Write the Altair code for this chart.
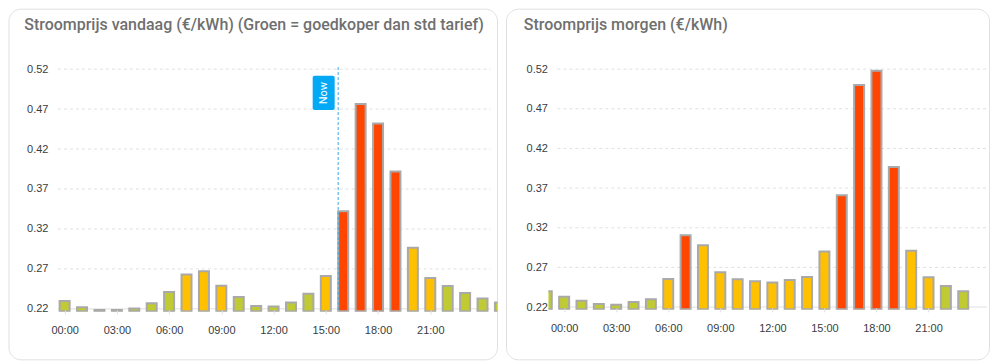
import altair as alt
import pandas as pd

# ---------------- data ----------------
TODAY_HOURS = list(range(0, 26))
TODAY_PRICES = [0.230, 0.222, 0.2185, 0.2185, 0.2205, 0.227, 0.241, 0.263, 0.267, 0.249,
                0.235, 0.2235, 0.223, 0.228, 0.239, 0.261, 0.342, 0.4765, 0.452, 0.392,
                0.2965, 0.2585, 0.2485, 0.240, 0.233, 0.228]
TODAY_LEVELS = ["g", "g", "g", "g", "g", "g", "g", "y", "y", "y",
                "g", "g", "g", "g", "g", "y", "r", "r", "r", "r",
                "y", "y", "g", "g", "g", "g"]

TOMORROW_HOURS = list(range(-1, 24))
TOMORROW_PRICES = [0.240, 0.233, 0.228, 0.224, 0.223, 0.2265, 0.230, 0.2555, 0.3105, 0.298,
                   0.264, 0.255, 0.2525, 0.251, 0.254, 0.258, 0.290, 0.361, 0.500, 0.518,
                   0.3965, 0.291, 0.2575, 0.2465, 0.240]
TOMORROW_LEVELS = ["g", "g", "g", "g", "g", "g", "g", "y", "r", "y",
                   "y", "y", "y", "y", "y", "y", "y", "r", "r", "r",
                   "r", "y", "y", "g", "g"]

NOW_HOUR = 15.68
Y_TICKS = [0.22, 0.27, 0.32, 0.37, 0.42, 0.47, 0.52]
X_TICKS = [0, 3, 6, 9, 12, 15, 18, 21]
X_LABELS = ["00:00", "03:00", "06:00", "09:00", "12:00", "15:00", "18:00", "21:00"]
LEVEL_NAMES = ["g", "y", "r"]
LEVEL_COLORS = ["#C0CA33", "#FFC000", "#FF4500"]
TITLE_TODAY = "Stroomprijs vandaag (€/kWh) (Groen = goedkoper dan std tarief)"
TITLE_TOMORROW = "Stroomprijs morgen (€/kWh)"

AXIS_FONT = "Liberation Sans"
LABEL_COLOR = "#373d3f"
GRID_COLOR = "#e0e0e0"
label_expr = "[" + ",".join("'%s'" % s for s in X_LABELS) + "][datum.value / 3]"


def panel(hours, prices, levels, title, width, height, xdom, px_per_unit,
          base_px, grid_x0, grid_x1, ylabel_pad, card_x0, card_x1, title_x, now=None):
    ymax = 0.52
    ymin = ymax - height / px_per_unit
    base = ymax - base_px / px_per_unit
    xs = alt.Scale(domain=xdom, nice=False, zero=False, padding=0)
    ys = alt.Scale(domain=[ymin, ymax], nice=False, zero=False, padding=0)
    x_axis = alt.Axis(values=X_TICKS, labelExpr=label_expr, grid=False,
                      domain=False, ticks=True, tickSize=4, tickColor=GRID_COLOR,
                      offset=-2, labelPadding=11, labelFontSize=11,
                      labelFont=AXIS_FONT, labelColor=LABEL_COLOR,
                      labelFlush=False, labelOverlap=False, zindex=2)
    y_axis = alt.Axis(values=Y_TICKS, format=".2f", grid=False, domain=False,
                      ticks=False, labelPadding=ylabel_pad, labelFontSize=11,
                      labelFont=AXIS_FONT, labelColor=LABEL_COLOR,
                      labelOverlap=False, zindex=2)

    def X():
        return alt.X("hour:Q", scale=xs, title=None, axis=x_axis)

    def Y():
        return alt.Y("price:Q", scale=ys, title=None, axis=y_axis)

    df = pd.DataFrame({"hour": hours, "price": prices, "level": levels})
    one = pd.DataFrame({"a": [0]})

    card = alt.Chart(one).mark_rect(
        fill="white", stroke="#e0e0e0", strokeWidth=1, cornerRadius=12
    ).encode(x=alt.value(card_x0), x2=alt.value(card_x1),
             y=alt.value(-60), y2=alt.value(291))

    ttl = alt.Chart(one).mark_text(
        text=title, align="left", baseline="alphabetic", font="Roboto",
        fontSize=16, fontWeight=500, color="#6f6f6f"
    ).encode(x=alt.value(title_x), y=alt.value(-39.5))

    grid_df = pd.DataFrame({"price": Y_TICKS[1:]})
    grid = alt.Chart(grid_df).mark_rule(
        color=GRID_COLOR, strokeWidth=1, strokeDash=[3, 3]
    ).encode(y=Y(), x=alt.value(grid_x0), x2=alt.value(grid_x1))

    base_df = pd.DataFrame({"price": Y_TICKS[:1]})
    baseline = alt.Chart(base_df).mark_rule(
        color=GRID_COLOR, strokeWidth=1
    ).encode(y=Y(), x=alt.value(grid_x0), x2=alt.value(grid_x1))

    bars = alt.Chart(df).mark_bar(
        size=10, stroke="#a9a9a9", strokeWidth=2, clip=True
    ).encode(
        x=X(), y=Y(), y2=alt.datum(base),
        color=alt.Color("level:N", scale=alt.Scale(domain=LEVEL_NAMES, range=LEVEL_COLORS),
                        legend=None),
    )

    layers = [card, ttl, grid, baseline, bars]

    if now is not None:
        ndf = pd.DataFrame({"hour": [now]})
        line = alt.Chart(ndf).mark_rule(
            color="#3aa8e8", strokeWidth=1, strokeDash=[3, 2], xOffset=0.5
        ).encode(x=X(), y=alt.value(-2), y2=alt.value(height))
        box = alt.Chart(ndf).mark_rect(
            fill="#03A9F4", cornerRadius=2, xOffset=-25, x2Offset=-3
        ).encode(x=X(), x2="hour:Q", y=alt.value(6.7), y2=alt.value(41))
        txt = alt.Chart(ndf).mark_text(
            text="Now", angle=270, color="white", fontSize=11, font="Roboto",
            align="center", baseline="middle", xOffset=-14
        ).encode(x=X(), y=alt.value(24))
        layers += [line, box, txt]

    return alt.layer(*layers).properties(width=width, height=height)


left = panel(TODAY_HOURS, TODAY_PRICES, TODAY_LEVELS, TITLE_TODAY,
             width=440, height=243, xdom=[-0.384, 24.86], px_per_unit=800,
             base_px=242.5, grid_x0=0, grid_x1=433, ylabel_pad=10,
             card_x0=-49, card_x1=440, title_x=-33.7, now=NOW_HOUR)

right = panel(TOMORROW_HOURS, TOMORROW_PRICES, TOMORROW_LEVELS, TITLE_TOMORROW,
              width=439, height=241, xdom=[-0.904, 24.37], px_per_unit=794,
              base_px=240.3, grid_x0=9, grid_x1=439, ylabel_pad=1,
              card_x0=-42, card_x1=441.5, title_x=-24.7)

chart = alt.hconcat(left, right, spacing=51, bounds="flush").properties(
    padding=0, background="white"
).configure_view(strokeWidth=0)

chart.save("out.html", embed_options={"renderer": "svg", "actions": False})
